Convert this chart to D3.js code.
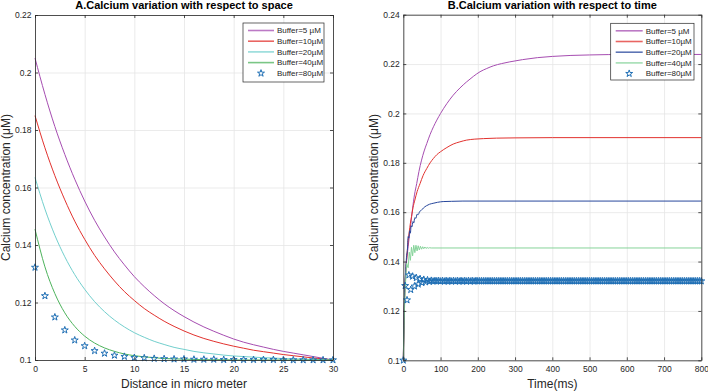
<!DOCTYPE html>
<html lang="en">
<head>
<meta charset="UTF-8">
<title>Calcium variation</title>
<script src="https://d3js.org/d3.v7.min.js"></script>
<style>
  body { margin: 0; background: #fff; }
  svg { display: block; font-family: Arial, "Liberation Sans", sans-serif; }
  .tick text { fill: #262626; font-size: 8.5px; }
  .axis path, .axis line { stroke: #262626; stroke-width: 0.8; }
  .grid line { stroke: #e6e6e6; stroke-width: 0.8; }
  .grid path { display: none; }
  .title { font-size: 11px; font-weight: bold; fill: #000; }
  .label { font-size: 12px; fill: #262626; }
  .legend text { font-size: 8px; fill: #262626; }
</style>
</head>
<body>
<div id="chart"></div>
<script>
// ---- A: calcium vs distance ----
var distance = [0,1,2,3,4,5,6,7,8,9,10,11,12,13,14,15,16,17,18,19,20,21,22,23,24,25,26,27,28,29,30];
var space5  = [0.2050,0.1924,0.1812,0.1715,0.1629,0.1553,0.1486,0.1428,0.1376,0.1331,0.1290,0.1255,0.1224,0.1196,0.1172,0.1151,0.1132,0.1115,0.1100,0.1086,0.1073,0.1062,0.1053,0.1045,0.1037,0.1030,0.1024,0.1018,0.1012,0.1006,0.1000];
var space10 = [0.1850,0.1738,0.1641,0.1557,0.1483,0.1420,0.1364,0.1317,0.1275,0.1238,0.1207,0.1179,0.1156,0.1135,0.1117,0.1101,0.1087,0.1075,0.1065,0.1056,0.1048,0.1041,0.1034,0.1029,0.1024,0.1019,0.1015,0.1011,0.1007,0.1004,0.1000];
var space20 = [0.1635,0.1525,0.1434,0.1359,0.1297,0.1246,0.1203,0.1168,0.1139,0.1115,0.1095,0.1079,0.1065,0.1054,0.1044,0.1037,0.1030,0.1025,0.1021,0.1017,0.1014,0.1012,0.1010,0.1008,0.1007,0.1005,0.1004,0.1003,0.1002,0.1001,0.1000];
var space40 = [0.1455,0.1324,0.1231,0.1164,0.1117,0.1083,0.1059,0.1042,0.1030,0.1021,0.1015,0.1011,0.1008,0.1005,0.1004,0.1003,0.1002,0.1001,0.1001,0.1001,0.1000,0.1000,0.1000,0.1000,0.1000,0.1000,0.1000,0.1000,0.1000,0.1000,0.1000];
var space80 = [0.1322,0.1223,0.1149,0.1104,0.1069,0.1049,0.1032,0.1023,0.1016,0.1012,0.1008,0.1007,0.1005,0.1004,0.1003,0.1003,0.1002,0.1002,0.1002,0.1001,0.1001,0.1001,0.1001,0.1001,0.1001,0.1000,0.1000,0.1000,0.1000,0.1000,0.1000];
var spaceXTicks = [0,5,10,15,20,25,30];
var spaceYTicks = [0.1,0.12,0.14,0.16,0.18,0.2,0.22];

// ---- B: calcium vs time, [ms, uM] pairs ----
var time5 = [[0,0.100],[2,0.118],[4,0.128],[6,0.135],[8,0.139],[10,0.142],[13,0.146],[16,0.150],[20,0.155],[25,0.1616],[30,0.1670],[36,0.1716],[42,0.1765],[49,0.1811],[56,0.1848],[63,0.1878],[72,0.1915],[81,0.1946],[90,0.1973],[100,0.2000],[117,0.2040],[134,0.2074],[152,0.2103],[170,0.2128],[188,0.2150],[206,0.2169],[224,0.2182],[242,0.2193],[264,0.2202],[286,0.2209],[320,0.2218],[360,0.2226],[400,0.2231],[450,0.2235],[500,0.2237],[600,0.2239],[700,0.2239],[800,0.2239]];
var time10 = [[0,0.100],[2,0.116],[4,0.127],[6,0.134],[8,0.139],[10,0.143],[13,0.1485],[16,0.152],[19,0.1555],[22,0.1582],[26,0.1618],[31,0.1649],[37,0.1683],[45,0.1716],[53,0.1748],[63,0.1777],[72,0.1800],[81,0.1818],[90,0.1833],[100,0.1845],[117,0.1862],[134,0.1876],[152,0.1885],[170,0.1892],[192,0.1896],[215,0.1898],[250,0.1900],[300,0.1901],[400,0.1902],[800,0.1902]];
var time20 = [[0,0.100],[3,0.125],[5,0.133],[7,0.138],[9,0.1425],[11,0.1445],[13,0.1501],[15,0.1495],[17,0.1525],[19,0.1515],[21,0.1545],[23,0.1540],[26,0.1562],[28,0.1556],[31,0.1578],[34,0.1575],[37,0.1592],[40,0.1590],[44,0.1603],[48,0.1607],[54,0.1617],[62,0.1626],[70,0.1632],[80,0.1636],[92,0.1640],[107,0.1643],[130,0.1644],[160,0.1645],[800,0.1645]];
var time40 = [[0,0.100],[3,0.120],[5,0.128],[7,0.1345],[9,0.1393],[11,0.1382],[13,0.1375],[16,0.1438],[19,0.1405],[22,0.1458],[25,0.1423],[28,0.1466],[31,0.1436],[34,0.1466],[37,0.1443],[40,0.1464],[43,0.1447],[46,0.1462],[49,0.1450],[52,0.1460],[55,0.1452],[58,0.1459],[61,0.1453],[64,0.1457],[67,0.1454],[70,0.1456],[75,0.1455],[800,0.1455]];
// buffer 80 uM sampled every 5 ms
var time80 = [
  0.1000,0.1302,0.1244,0.1345,0.1286,0.1340,0.1300,0.1334,0.1308,0.1330,0.1314,0.1327,0.1317,0.1325,0.1319,0.1323,0.1320,0.1322,0.1321,0.1322,
  0.1320,0.1322,0.1320,0.1322,0.1320,0.1322,0.1320,0.1322,0.1320,0.1322,0.1320,0.1322,0.1320,0.1322,0.1320,0.1322,0.1320,0.1322,0.1320,0.1322,
  0.1321,0.1321,0.1321,0.1321,0.1321,0.1321,0.1321,0.1321,0.1321,0.1321,0.1321,0.1321,0.1321,0.1321,0.1321,0.1321,0.1321,0.1321,0.1321,0.1321,
  0.1321,0.1321,0.1321,0.1321,0.1321,0.1321,0.1321,0.1321,0.1321,0.1321,0.1321,0.1321,0.1321,0.1321,0.1321,0.1321,0.1321,0.1321,0.1321,0.1321,
  0.1321,0.1321,0.1321,0.1321,0.1321,0.1321,0.1321,0.1321,0.1321,0.1321,0.1321,0.1321,0.1321,0.1321,0.1321,0.1321,0.1321,0.1321,0.1321,0.1321,
  0.1321,0.1321,0.1321,0.1321,0.1321,0.1321,0.1321,0.1321,0.1321,0.1321,0.1321,0.1321,0.1321,0.1321,0.1321,0.1321,0.1321,0.1321,0.1321,0.1321,
  0.1321,0.1321,0.1321,0.1321,0.1321,0.1321,0.1321,0.1321,0.1321,0.1321,0.1321,0.1321,0.1321,0.1321,0.1321,0.1321,0.1321,0.1321,0.1321,0.1321,
  0.1321,0.1321,0.1321,0.1321,0.1321,0.1321,0.1321,0.1321,0.1321,0.1321,0.1321,0.1321,0.1321,0.1321,0.1321,0.1321,0.1321,0.1321,0.1321,0.1321,
  0.1321
];
var timeXTicks = [0,100,200,300,400,500,600,700,800];
var timeYTicks = [0.1,0.12,0.14,0.16,0.18,0.2,0.22,0.24];

var legendNames = ["Buffer=5 \u00b5M","Buffer=10\u00b5M","Buffer=20\u00b5M","Buffer=40\u00b5M","Buffer=80\u00b5M"];

var width = 708, height = 392;
var svg = d3.select("#chart").append("svg")
    .attr("width", width)
    .attr("height", height);
svg.append("rect").attr("width", width).attr("height", height).attr("fill", "#fff");

var starSymbol = d3.symbol().type(d3.symbolStar).size(15);

function drawPanel(cfg) {
    var x = d3.scaleLinear().domain(cfg.xDomain).range([cfg.left, cfg.right]);
    var y = d3.scaleLinear().domain(cfg.yDomain).range([cfg.bottom, cfg.top]);
    var g = svg.append("g");

    // grid
    g.append("g").attr("class", "grid")
        .attr("transform", "translate(0," + cfg.bottom + ")")
        .call(d3.axisBottom(x).tickValues(cfg.xTicks).tickSize(-(cfg.bottom - cfg.top)).tickFormat(""));
    g.append("g").attr("class", "grid")
        .attr("transform", "translate(" + cfg.left + ",0)")
        .call(d3.axisLeft(y).tickValues(cfg.yTicks).tickSize(-(cfg.right - cfg.left)).tickFormat(""));

    // lines
    cfg.lines.forEach(function(s) {
        var line = d3.line()
            .x(function(d) { return x(d[0]); })
            .y(function(d) { return y(d[1]); })
            .curve(s.curve || d3.curveMonotoneX);
        g.append("path")
            .datum(s.data)
            .attr("fill", "none")
            .attr("stroke", s.color)
            .attr("stroke-width", 1)
            .attr("d", line);
    });

    // stars
    g.append("g").selectAll("path")
        .data(cfg.stars.data)
        .enter().append("path")
        .attr("transform", function(d) { return "translate(" + x(d[0]) + "," + y(d[1]) + ")"; })
        .attr("d", starSymbol)
        .attr("fill", "none")
        .attr("stroke", cfg.stars.color)
        .attr("stroke-width", 1);

    // axes, ticks pointing inwards
    g.append("g").attr("class", "axis")
        .attr("transform", "translate(0," + cfg.bottom + ")")
        .call(d3.axisBottom(x).tickValues(cfg.xTicks).tickSizeInner(-3).tickSizeOuter(0).tickPadding(6));
    g.append("g").attr("class", "axis")
        .attr("transform", "translate(0," + cfg.top + ")")
        .call(d3.axisTop(x).tickValues(cfg.xTicks).tickSizeInner(-3).tickSizeOuter(0).tickFormat(""));
    g.append("g").attr("class", "axis")
        .attr("transform", "translate(" + cfg.left + ",0)")
        .call(d3.axisLeft(y).tickValues(cfg.yTicks).tickSizeInner(-3).tickSizeOuter(0).tickPadding(3.5).tickFormat(function(d) { return String(d); }));
    g.append("g").attr("class", "axis")
        .attr("transform", "translate(" + cfg.right + ",0)")
        .call(d3.axisRight(y).tickValues(cfg.yTicks).tickSizeInner(-3).tickSizeOuter(0).tickFormat(""));

    // title and labels
    var cx = (cfg.left + cfg.right) / 2;
    g.append("text").attr("class", "title")
        .attr("x", cx).attr("y", 8.5)
        .attr("text-anchor", "middle")
        .text(cfg.title);
    g.append("text").attr("class", "label")
        .attr("x", cx).attr("y", 388)
        .attr("text-anchor", "middle")
        .text(cfg.xLabel);
    g.append("text").attr("class", "label")
        .attr("transform", "translate(" + (cfg.left - 25) + "," + ((cfg.top + cfg.bottom) / 2) + ") rotate(-90)")
        .attr("text-anchor", "middle")
        .text("Calcium concentration (\u03bcM)");

    // legend
    var lg = g.append("g").attr("class", "legend");
    lg.append("rect")
        .attr("x", cfg.legend.x).attr("y", cfg.legend.y)
        .attr("width", cfg.legend.w).attr("height", cfg.legend.h)
        .attr("fill", "#fff").attr("stroke", "#262626").attr("stroke-width", 0.7);
    var colors = cfg.lines.map(function(s) { return s.color; });
    legendNames.forEach(function(name, i) {
        var yy = cfg.legend.y + 7.5 + i * 10.7;
        var x0 = cfg.legend.x + 5, x1 = cfg.legend.x + cfg.legend.lineW;
        if (i < 4) {
            lg.append("line")
                .attr("x1", x0).attr("x2", x1).attr("y1", yy).attr("y2", yy)
                .attr("stroke", colors[i]).attr("stroke-width", 1.6).attr("stroke-opacity", 0.75);
        } else {
            lg.append("path")
                .attr("transform", "translate(" + ((x0 + x1) / 2) + "," + yy + ")")
                .attr("d", starSymbol)
                .attr("fill", "none").attr("stroke", cfg.stars.color).attr("stroke-width", 1);
        }
        lg.append("text")
            .attr("x", x1 + 3).attr("y", yy + 2.8)
            .text(name);
    });
}

function pairs(xs, ys) {
    return xs.map(function(v, i) { return [v, ys[i]]; });
}

drawPanel({
    left: 35, right: 333, top: 15, bottom: 360,
    xDomain: [0, 30], yDomain: [0.1, 0.22],
    xTicks: spaceXTicks, yTicks: spaceYTicks,
    title: "A.Calcium variation with respect to space",
    xLabel: "Distance in micro meter",
    lines: [
        { data: pairs(distance, space5),  color: "#a64db1" },
        { data: pairs(distance, space10), color: "#e2322e" },
        { data: pairs(distance, space20), color: "#72cfcd" },
        { data: pairs(distance, space40), color: "#4db35c" }
    ],
    stars: { data: pairs(distance, space80), color: "#1f6fb5" },
    legend: { x: 243, y: 23, w: 81, h: 59, lineW: 31 }
});

drawPanel({
    left: 403.3, right: 701.3, top: 14.7, bottom: 360.3,
    xDomain: [0, 800], yDomain: [0.1, 0.24],
    xTicks: timeXTicks, yTicks: timeYTicks,
    title: "B.Calcium variation with respect to time",
    xLabel: "Time(ms)",
    lines: [
        { data: time5,  color: "#a64db1" },
        { data: time10, color: "#e2322e" },
        { data: time20, color: "#27479c" },
        { data: time40, color: "#86d39a", curve: d3.curveLinear }
    ],
    stars: { data: time80.map(function(v, i) { return [i * 5, v]; }), color: "#1f6fb5" },
    legend: { x: 610.7, y: 23.3, w: 83.3, h: 56.7, lineW: 32 }
});
</script>
</body>
</html>
